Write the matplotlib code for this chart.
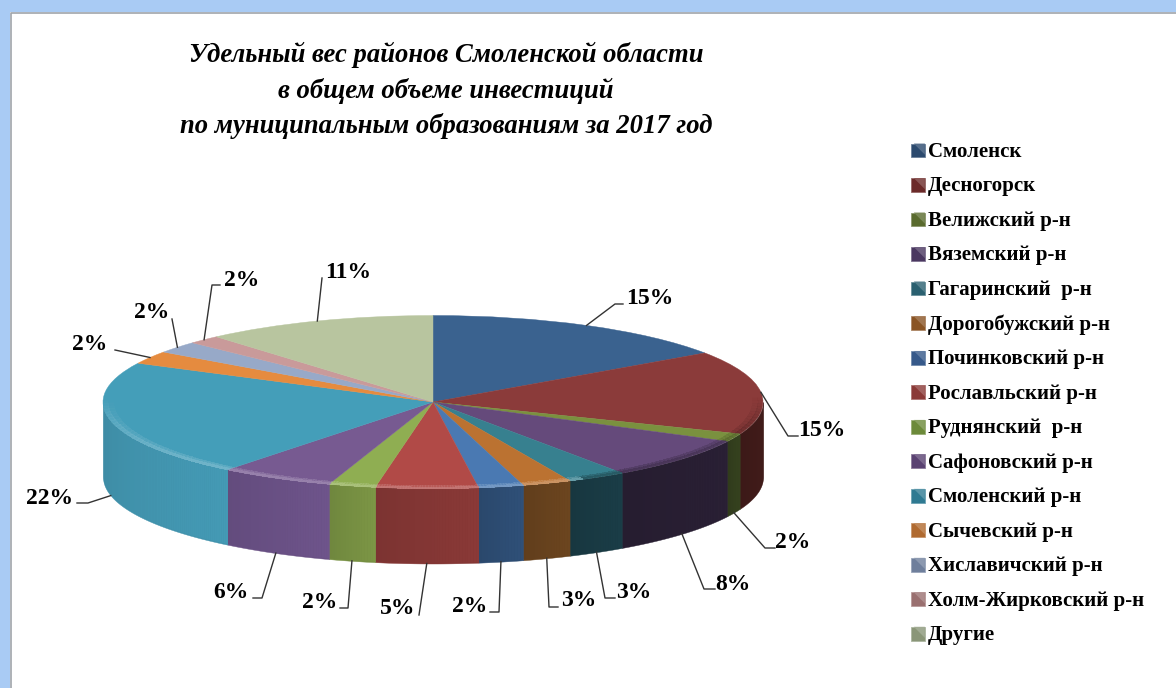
import numpy as np
import matplotlib
matplotlib.use("Agg")
import matplotlib.pyplot as plt
from matplotlib.patches import Rectangle, Polygon, Patch
from matplotlib.legend_handler import HandlerPatch
from matplotlib.colors import to_rgb

### RAW DATA
titleText = "Удельный вес районов Смоленской области\nв общем объеме инвестиций\nпо муниципальным образованиям за 2017 год"
districts = ["Смоленск", "Десногорск", "Велижский р-н", "Вяземский р-н", "Гагаринский  р-н",
             "Дорогобужский р-н", "Починковский р-н", "Рославльский р-н", "Руднянский  р-н",
             "Сафоновский р-н", "Смоленский р-н", "Сычевский р-н", "Хиславичский р-н",
             "Холм-Жирковский р-н", "Другие"]
shares = [15.4, 15.6, 1.5, 7.8, 2.9, 2.4, 2.2, 5.0, 2.3, 5.6, 21.7, 2.4, 2.2, 1.6, 11.4]
shareLabels = ["15%", "15%", "2%", "8%", "3%", "3%", "2%", "5%", "2%", "6%", "22%", "2%", "2%", "2%", "11%"]

topColors = ["#3a628f", "#8b3b3a", "#7a913f", "#654a7b", "#37808f", "#bb7231", "#4a79b2", "#b14a47",
             "#8fae52", "#775a91", "#449eb9", "#e58b3f", "#97a9c8", "#c99a9a", "#b8c59f"]
sideColors = ["#2c4a6e", "#431c1a", "#36421f", "#2a2035", "#1a3d47", "#6c451f", "#2f5078", "#8a3937",
              "#7c9645", "#6e548b", "#449ab5", "#b06a30", "#6f7f9c", "#9a7070", "#8a9678"]
swatchColors = ["#2c4a6e", "#6b2a29", "#5a6b2e", "#4a3760", "#2a6070", "#8a5424", "#36598a", "#8a3937",
                "#6c8a3a", "#5a4272", "#2f7a92", "#b06a30", "#6f7f9c", "#9a7070", "#8a9678"]

# picture geometry, in pixels
figW, figH = 1176, 688
pieX, pieY = 433, 402
pieRx, pieRy = 330, 86.5
pieDepth = 75

# leader elbows and label centres per slice, in pixels
leaderPts = [[(615, 304), (623, 304)], [(788, 436), (798, 436)], [(765, 548), (775, 548)],
             [(704, 589), (715, 589)], [(605, 598), (615, 598)], [(549, 607), (558, 607)],
             [(499, 612), (490, 612)], [(419, 615)], [(348, 608), (340, 608)],
             [(262, 598), (253, 598)], [(88, 503), (77, 503)], [(115, 350)],
             [(172, 319)], [(212, 285), (220, 285)], [(322, 278)]]
labelPos = [(650, 299), (822, 431), (793, 542), (733, 584), (634, 593), (579, 600), (470, 606),
            (398, 608), (320, 602), (231, 593), (50, 498), (90, 345), (152, 313), (242, 280), (348, 273)]

plt.rcParams['font.family'] = ['Liberation Serif', 'DejaVu Serif']


def blend(color, other, amount):
    a = np.array(to_rgb(color))
    b = np.array(to_rgb(other))
    return tuple(a + (b - a) * amount)


class BevelHandler(HandlerPatch):
    # legend key: a small dark square with a lighter upper right corner
    def create_artists(self, legend, orig, xd, yd, width, height, fontsize, trans):
        base = orig.get_facecolor()
        x0, y0 = -xd, -yd - 0.5
        side = 10
        square = Rectangle((x0, y0), side, side, facecolor=base, edgecolor=blend(base, "#ffffff", 0.3),
                           linewidth=0.6, transform=trans)
        corner = Polygon([(x0 + side, y0 + side), (x0 + 2, y0 + side), (x0 + side, y0 + 2)],
                         facecolor=blend(base, "#ffffff", 0.2), linewidth=0, transform=trans)
        return [square, corner]


def main():
    fig = plt.figure(figsize=(figW / 100, figH / 100), dpi=100, facecolor="white")

    ## PIE: unit circle in data space, axis limits squash it into the ellipse
    ax = fig.add_axes([0, 0, 1, 1])
    wedges, _ = ax.pie(shares, colors=topColors, startangle=90, counterclock=False, radius=1)
    for w in wedges:
        w.set_edgecolor(w.get_facecolor())
        w.set_linewidth(0.3)
        w.set_zorder(3)
    ax.set_aspect("auto")
    ax.set_xlim(-pieX / pieRx, (figW - pieX) / pieRx)
    ax.set_ylim((pieY - figH) / pieRy, pieY / pieRy)
    ax.axis("off")

    depth = pieDepth / pieRy
    edges = np.cumsum([0] + shares) / 100 * 360

    ## WALL and RIM of every slice
    for i in range(len(shares)):
        start, stop = edges[i], edges[i + 1]
        wallFrom, wallTo = max(start, 90), min(stop, 270)
        if wallTo > wallFrom:
            steps = np.linspace(wallFrom, wallTo, int(wallTo - wallFrom) * 2 + 2)
            t = np.radians(steps)
            ax.fill_between(np.sin(t), np.cos(t), np.cos(t) - depth, color=blend(sideColors[i], "#000000", 0.05),
                            linewidth=0.3, zorder=2)
            for k in range(len(steps) - 1):
                t = np.radians(steps[k:k + 2])
                pos = k / max(len(steps) - 2, 1)
                c = blend(sideColors[i], "#000000", 0.1 * pos)
                ax.fill_between(np.sin(t), np.cos(t), np.cos(t) - depth + 0.012, color=c, linewidth=0,
                                antialiased=False, zorder=2.1)

        # light bevel on the front and left, shaded one on the right
        steps = np.linspace(start, stop, int(stop - start) * 2 + 2)
        for k in range(len(steps) - 1):
            mid = np.radians((steps[k] + steps[k + 1]) / 2)
            strength = np.clip(0.05 - np.cos(mid), 0, 1) * 0.85
            if strength <= 0:
                continue
            c = blend(topColors[i], "#000000", 0.3) if np.sin(mid) > 0.45 else blend(topColors[i], "#ffffff", 0.25)
            t = np.radians(steps[k:k + 2])
            for outer, inner, fade in [(1.0, 0.985, 1.0), (0.985, 0.968, 0.45)]:
                xs = np.r_[outer * np.sin(t), inner * np.sin(t[::-1])]
                ys = np.r_[outer * np.cos(t), inner * np.cos(t[::-1])]
                ax.fill(xs, ys, color=c, alpha=float(strength * fade), linewidth=0, antialiased=False, zorder=4)

    ## OVERLAY in pixels: frame, title, labels, legend
    ov = fig.add_axes([0, 0, 1, 1], facecolor="none")
    ov.set_xlim(0, figW)
    ov.set_ylim(figH, 0)
    ov.axis("off")

    ov.add_patch(Rectangle((0, 0), figW, 12, facecolor="#a9cbf4", linewidth=0))
    ov.add_patch(Rectangle((0, 0), 10, figH, facecolor="#a9cbf4", linewidth=0))
    ov.plot([10.5, 10.5, figW], [figH, 12.5, 12.5], color="#a0a4aa", linewidth=1.2)

    ov.text(446, 90.5, titleText, ha="center", va="center", multialignment="center", fontsize=19.2,
            style="italic", fontweight="bold", linespacing=1.45, color="black")

    for i in range(len(shares)):
        mid = np.radians((edges[i] + edges[i + 1]) / 2)
        x0 = pieX + pieRx * np.sin(mid)
        y0 = pieY - pieRy * np.cos(mid)
        if 95 < np.degrees(mid) < 265:
            y0 += pieDepth
        pts = [(x0, y0)] + leaderPts[i]
        ov.plot([p[0] for p in pts], [p[1] for p in pts], color="#333333", linewidth=1.0)
        ov.text(labelPos[i][0], labelPos[i][1], shareLabels[i], ha="center", va="center",
                fontsize=17, fontweight="bold", color="black")

    handles = [Patch(facecolor=c) for c in swatchColors]
    ov.legend(handles, districts, handler_map={Patch: BevelHandler()}, loc="upper left",
              bbox_to_anchor=(911 / figW, 1 - 142 / figH), bbox_transform=fig.transFigure,
              frameon=False, borderpad=0, borderaxespad=0,
              handlelength=0.67, handleheight=0.67, handletextpad=0.15, labelspacing=0.695,
              prop={"family": "Liberation Serif", "weight": "bold", "size": 15})

    fig.savefig("out.png", dpi=100)


if __name__ == "__main__":
    main()
